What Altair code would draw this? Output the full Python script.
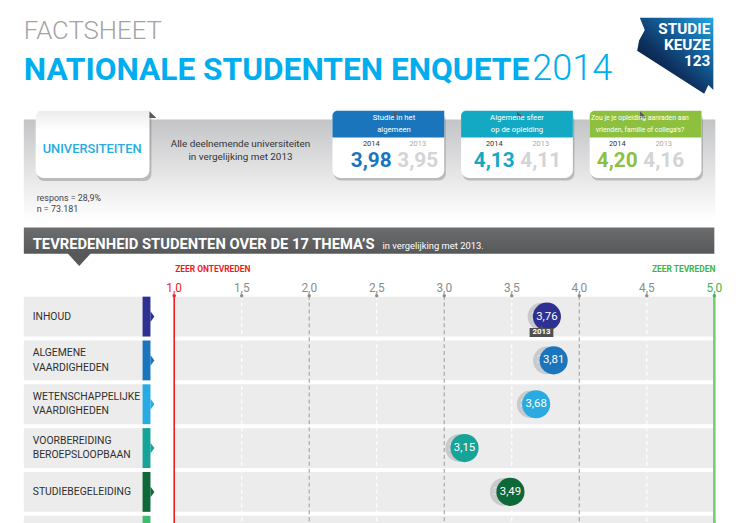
import altair as alt
import pandas as pd

# ---------------- data ----------------
themes = ["INHOUD", "ALGEMENE\nVAARDIGHEDEN", "WETENSCHAPPELIJKE\nVAARDIGHEDEN",
          "VOORBEREIDING\nBEROEPSLOOPBAAN", "STUDIEBEGELEIDING", "TOETSING EN\nBEOORDELING"]
theme_colors = ["#2e3192", "#1b75bc", "#29abe2", "#17a398", "#0f6838", "#3dbb6f"]
scores_2014 = [3.76, 3.81, 3.68, 3.15, 3.49]
scores_2013 = [3.72, 3.76, 3.64, 3.11, 3.44]

tick_values = [1.0, 1.5, 2.0, 2.5, 3.0, 3.5, 4.0, 4.5, 5.0]
tick_labels = ["1,0", "1,5", "2,0", "2,5", "3,0", "3,5", "4,0", "4,5", "5,0"]

cards = ["Studie in het\nalgemeen", "Algemene sfeer\nop de opleiding",
         "Zou je je opleiding aanraden aan\nvrienden, familie of collega's?"]
card_2014 = [3.98, 4.13, 4.20]
card_2013 = [3.95, 4.11, 4.16]
card_colors = ["#1b75bc", "#14a9c3", "#8dc03f"]

respons_lines = ["respons = 28,9%", "n = 73.181"]

# ---------------- helpers ----------------
F = "Roboto, Lato, sans-serif"


def fmt(v):
    return f"{v:.2f}".replace(".", ",")


def dummy():
    return alt.Data(values=[{"a": 1}])


def text_at(x, y, text, **kw):
    return alt.Chart(dummy()).mark_text(text=text, **kw).encode(x=alt.value(x), y=alt.value(y))


def rect_at(x, x2, y, y2, **kw):
    return alt.Chart(dummy()).mark_rect(**kw).encode(
        x=alt.value(x), x2=alt.value(x2), y=alt.value(y), y2=alt.value(y2))


def shape_at(x, y, path, size, **kw):
    return alt.Chart(dummy()).mark_point(shape=path, size=size, filled=True, opacity=1,
                                         strokeWidth=0, **kw).encode(x=alt.value(x), y=alt.value(y))


def grad(stops, x1=0, y1=0, x2=0, y2=1):
    return alt.LinearGradient(gradient="linear", x1=x1, y1=y1, x2=x2, y2=y2,
                              stops=[alt.GradientStop(color=c, offset=o) for o, c in stops])


TRI = "M-1,-1L1,1L-1,1Z"

# ---------------- tables ----------------
rows_df = pd.DataFrame({"theme": themes, "col": theme_colors})
labels1_df = rows_df.iloc[:5][["\n" not in t for t in themes[:5]]]
labels2_df = rows_df.iloc[:5][["\n" in t for t in themes[:5]]]
dots_df = pd.DataFrame({"theme": themes[:5], "s14": scores_2014, "s13": scores_2013,
                        "col": theme_colors[:5],
                        "l14": [fmt(v) for v in scores_2014],
                        "l13": [fmt(v) for v in scores_2013]})
tag_df = dots_df.iloc[[0]]

tick_cols = []
for v in tick_values:
    if v == 1.0:
        tick_cols.append("#ec1c24")
    elif v == 5.0:
        tick_cols.append("#3db54a")
    else:
        tick_cols.append("#8c8c8c")
ticks_df = pd.DataFrame({"v": tick_values, "lab": tick_labels, "col": tick_cols})
half_df = ticks_df[[(v % 1 == 0.5) for v in tick_values]]
int_df = ticks_df[[(v % 1 == 0 and 1 < v < 5) for v in tick_values]]

cards_df = pd.DataFrame({"card": cards, "v14": [fmt(v) for v in card_2014],
                         "v13": [fmt(v) for v in card_2013], "col": card_colors})

# ---------------- scales ----------------
yscale = alt.Scale(domain=themes, range=[287, 552.8], paddingInner=0.09, paddingOuter=0.045)
xscale = alt.Scale(domain=[1, 5], range=[168, 714], nice=False, zero=False)
cscale = alt.Scale(domain=cards, range=[328, 701], paddingInner=0.1308, paddingOuter=0)

Y = alt.Y("theme:N", scale=yscale, axis=None)
CX = alt.X("card:N", scale=cscale, axis=None)
CXc = alt.X("card:N", scale=cscale, axis=None, bandPosition=0.5)
CXr = alt.X("card:N", scale=cscale, axis=None, bandPosition=1)
NOC = lambda f: alt.Color(f, scale=None)

layers = []

# ---- page header ----
layers.append(text_at(16, 29, "FACTSHEET", font=F, fontWeight=300, fontSize=26,
                      color="#a3a3a3", align="left", baseline="alphabetic"))
layers.append(text_at(16, 70, "NATIONALE STUDENTEN ENQUETE", font=F, fontWeight="bold",
                      fontSize=32, color="#00aeef", align="left", baseline="alphabetic"))
layers.append(text_at(530, 70, "2014", font=F, fontWeight=300, fontSize=36.5,
                      color="#00aeef", align="left", baseline="alphabetic"))
LOGO = "M-0.93,-1L1,-1L1,0.9L0.87,0.77L0.76,1L-1,-0.13L-0.95,-0.4L-0.8,-0.68Z"
layers.append(shape_at(674.5, 45.5, LOGO, 77 * 77,
                       color=grad([(0, "#23a8e4"), (0.3, "#1669a6"), (0.62, "#0e3260"), (1, "#060d1c")],
                                  1, 0, 0.1, 1)))
for yy, t in [(18, "STUDIE"), (35, "KEUZE"), (51, "123")]:
    layers.append(text_at(710, yy, t, font=F, fontWeight="bold", fontSize=15.5,
                          color="white", align="right", baseline="middle"))

# ---- grey summary band ----
layers.append(rect_at(16, 715, 110, 212, color=grad([(0, "#c3c4c6"), (0.55, "#e6e6e7"), (1, "#ffffff")])))

# universiteiten card
layers.append(rect_at(29.5, 145, 103.5, 172, color="#666", opacity=0.35, cornerRadius=7))
layers.append(rect_at(28, 143, 101, 169, color=grad([(0, "#ececec"), (0.3, "#ffffff"), (1, "#ffffff")]),
                      cornerRadiusTopLeft=6, cornerRadiusBottomLeft=8, cornerRadiusBottomRight=8))
layers.append(shape_at(146.5, 105, TRI, 49, color="#5a5a5a"))
layers.append(text_at(85, 140, "UNIVERSITEITEN", font=F, fontWeight=500, fontSize=13, color="#29abe2",
                      align="center", baseline="middle"))
layers.append(text_at(235, 135, ["Alle deelnemende universiteiten", "in vergelijking met 2013"],
                      font=F, fontSize=10, lineHeight=12.5, color="#333333",
                      align="center", baseline="middle"))
layers.append(text_at(29, 189, respons_lines, font=F, fontSize=9, lineHeight=11,
                      color="#444444", align="left", baseline="middle"))

# three score cards
cbase = alt.Chart(cards_df)
layers.append(cbase.mark_rect(color="#666", opacity=0.35, cornerRadius=7, xOffset=1.5, x2Offset=1.5,
                              yOffset=2.5, y2Offset=2.5).encode(x=CX, y=alt.value(101), y2=alt.value(169)))
layers.append(cbase.mark_rect(color="white", cornerRadiusTopLeft=5, cornerRadiusBottomLeft=8,
                              cornerRadiusBottomRight=8).encode(x=CX, y=alt.value(101), y2=alt.value(169)))
layers.append(cbase.mark_rect(cornerRadiusTopLeft=5).encode(
    x=CX, y=alt.value(101), y2=alt.value(128), color=NOC("col:N")))
layers.append(cbase.mark_point(shape=TRI, size=49, filled=True, opacity=1, strokeWidth=0,
                               color="#5a5a5a", xOffset=3.5).encode(x=CXr, y=alt.value(105)))
layers.append(alt.Chart(cards_df.iloc[:2]).mark_text(font=F, fontSize=7.8, lineBreak="\n", lineHeight=11.6,
                                                     color="white", baseline="middle").encode(
    x=CXc, y=alt.value(108.7), text="card:N"))
layers.append(alt.Chart(cards_df.iloc[2:]).mark_text(font=F, fontSize=6.9, lineBreak="\n", lineHeight=11.6,
                                                     color="white", baseline="middle").encode(
    x=CXc, y=alt.value(108.7), text="card:N"))
layers.append(cbase.mark_text(font=F, fontSize=7.5, color="#333333", baseline="middle",
                              text="2014", dx=-23).encode(x=CXc, y=alt.value(134.5)))
layers.append(cbase.mark_text(font=F, fontSize=7.5, color="#aaaaaa", baseline="middle",
                              text="2013", dx=24).encode(x=CXc, y=alt.value(134.5)))
layers.append(cbase.mark_text(font=F, fontSize=21, fontWeight="bold", baseline="middle", dx=-23).encode(
    x=CXc, y=alt.value(152), text="v14:N", color=NOC("col:N")))
layers.append(cbase.mark_text(font=F, fontSize=21, fontWeight="bold", baseline="middle", dx=24,
                              color="#d3d4d6").encode(x=CXc, y=alt.value(152), text="v13:N"))

# ---- section bar ----
layers.append(rect_at(16, 714, 219, 245.5, color=grad([(0, "#6c6d6f"), (1, "#57585a")])))
layers.append(shape_at(72, 251.5, "M-1,-0.55L1,-0.55L0,0.55Z", 24 * 24, color="#57585a"))
layers.append(text_at(25, 241, "TEVREDENHEID STUDENTEN OVER DE 17 THEMA\u2019S", font=F,
                      fontWeight="bold", fontSize=14.9, color="white", align="left", baseline="alphabetic"))
layers.append(text_at(378.5, 241, "in vergelijking met 2013.", font=F, fontSize=9.5,
                      color="white", align="left", baseline="alphabetic"))
layers.append(text_at(169, 261, "ZEER ONTEVREDEN", font=F, fontWeight="bold", fontSize=8.5,
                      color="#ec1c24", align="left", baseline="middle"))
layers.append(text_at(715, 261, "ZEER TEVREDEN", font=F, fontWeight="bold", fontSize=8.5,
                      color="#3db54a", align="right", baseline="middle"))

# ---- rows ----
rbase = alt.Chart(rows_df)
layers.append(rbase.mark_rect(color="#ececec").encode(x=alt.value(16), x2=alt.value(136), y=Y))
layers.append(rbase.mark_rect().encode(x=alt.value(136), x2=alt.value(144), y=Y, color=NOC("col:N")))
layers.append(rbase.mark_point(shape="M-0.4,-1.1L0.4,0L-0.4,1.1Z", size=100, filled=True, opacity=1,
                               strokeWidth=0).encode(x=alt.value(146), y=Y, color=NOC("col:N")))
layers.append(alt.Chart(labels1_df).mark_text(font=F, fontSize=10.5, color="#2f2f2f", align="left",
                                              baseline="middle").encode(
    x=alt.value(25), y=Y, text="theme:N"))
layers.append(alt.Chart(labels2_df).mark_text(font=F, fontSize=10.5, lineBreak="\n", lineHeight=14.5,
                                              color="#2f2f2f", align="left", baseline="middle",
                                              dy=-7.2).encode(
    x=alt.value(25), y=Y, text="theme:N"))
layers.append(rbase.mark_rect(color="#ececec").encode(
    x=alt.datum(1.0, scale=xscale), x2=alt.datum(5.0), y=Y))

# ---- grid ----
X = alt.X("v:Q", scale=xscale, axis=None)
layers.append(alt.Chart(half_df).mark_rule(color="white", strokeDash=[4, 3], strokeWidth=1.2).encode(
    x=X, y=alt.value(288), y2=alt.value(520)))
layers.append(alt.Chart(int_df).mark_rule(color="#a8a8a8", strokeDash=[4, 3], strokeWidth=1.2).encode(
    x=X, y=alt.value(288), y2=alt.value(520)))
layers.append(alt.Chart(ticks_df[ticks_df.v == 1.0]).mark_rule(color="#ec1c24", strokeWidth=1.6).encode(
    x=X, y=alt.value(288), y2=alt.value(520)))
layers.append(alt.Chart(ticks_df[ticks_df.v == 5.0]).mark_rule(color="#74cb72", strokeWidth=2.5).encode(
    x=X, y=alt.value(288), y2=alt.value(520)))
layers.append(alt.Chart(ticks_df).mark_circle(size=12, opacity=1).encode(
    x=X, y=alt.value(288), color=NOC("col:N")))
layers.append(alt.Chart(ticks_df).mark_text(font=F, fontSize=12, baseline="middle").encode(
    x=X, y=alt.value(280), text="lab:N", color=NOC("col:N")))

# ---- dots ----
dbase = alt.Chart(dots_df)
layers.append(dbase.mark_circle(size=784, opacity=1, color="#c9cacc").encode(
    x=alt.X("s13:Q", scale=xscale, axis=None), y=Y))
layers.append(dbase.mark_text(font=F, fontSize=11.5, color="#e2e2e2", baseline="middle").encode(
    x=alt.X("s13:Q", scale=xscale, axis=None), y=Y, text="l13:N"))
layers.append(dbase.mark_circle(size=810, opacity=1).encode(
    x=alt.X("s14:Q", scale=xscale, axis=None), y=Y, color=NOC("col:N")))
layers.append(dbase.mark_text(font=F, fontSize=11.5, color="white", baseline="middle").encode(
    x=alt.X("s14:Q", scale=xscale, axis=None), y=Y, text="l14:N"))
TAG = "M-1,-0.375L-0.15,-0.375L0,-0.6L0.15,-0.375L1,-0.375L1,0.375L-1,0.375Z"
tbase = alt.Chart(tag_df)
layers.append(tbase.mark_point(shape=TAG, size=576, filled=True, opacity=1, strokeWidth=0,
                               color="#505050", yOffset=16).encode(
    x=alt.X("s13:Q", scale=xscale, axis=None), y=Y))
layers.append(tbase.mark_text(font=F, fontSize=8, fontWeight="bold", color="white",
                              baseline="middle", dy=16, text="2013").encode(
    x=alt.X("s13:Q", scale=xscale, axis=None), y=Y))

chart = alt.layer(*layers).resolve_scale(x="independent", y="independent").properties(
    width=745, height=515, padding=0, autosize=alt.AutoSizeParams(type="none")
).configure_view(stroke=None)

chart.save("out.html", embed_options={"renderer": "svg", "actions": False})
